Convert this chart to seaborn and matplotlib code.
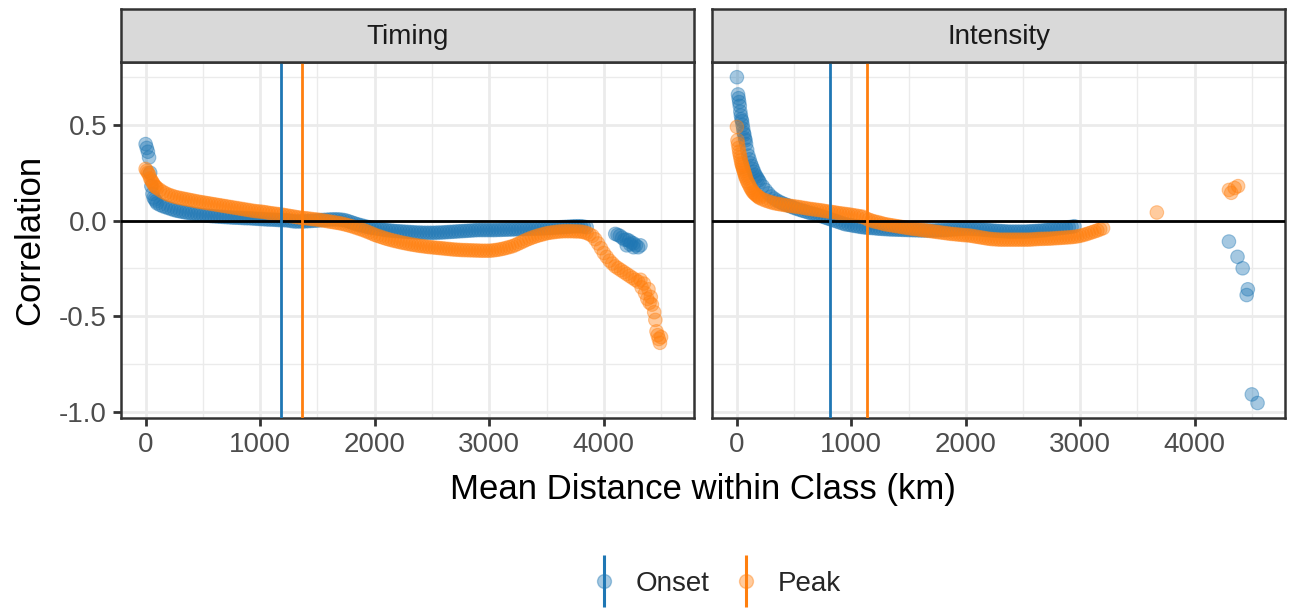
import numpy as np
import pandas as pd
import matplotlib
matplotlib.use('Agg')
import matplotlib.pyplot as plt
import seaborn as sns
from matplotlib.lines import Line2D
from matplotlib.legend_handler import HandlerTuple
from matplotlib.ticker import MultipleLocator

# cores
azul = '#1f77b4'
laranja = '#ff7f0e'

# Timing - Onset
timing_onset_x = [0, 10, 20, 30, 40, 50, 60, 70, 80, 90,
                  100, 125, 150, 175, 200, 225, 250, 275, 300, 325,
                  350, 375, 400, 425, 450, 475, 500, 525, 550, 575,
                  600, 625, 650, 675, 700, 725, 750, 775, 800, 825,
                  850, 875, 900, 925, 950, 975, 1000, 1025, 1050, 1075,
                  1100, 1125, 1150, 1175, 1200, 1225, 1250, 1275, 1300, 1325,
                  1350, 1375, 1400, 1425, 1450, 1475, 1500, 1525, 1550, 1575,
                  1600, 1625, 1650, 1675, 1700, 1725, 1750, 1775, 1800, 1825,
                  1850, 1875, 1900, 1925, 1950, 1975, 2000, 2025, 2050, 2075,
                  2100, 2125, 2150, 2175, 2200, 2225, 2250, 2275, 2300, 2325,
                  2350, 2375, 2400, 2425, 2450, 2475, 2500, 2525, 2550, 2575,
                  2600, 2625, 2650, 2675, 2700, 2725, 2750, 2775, 2800, 2825,
                  2850, 2875, 2900, 2925, 2950, 2975, 3000, 3025, 3050, 3075,
                  3100, 3125, 3150, 3175, 3200, 3225, 3250, 3275, 3300, 3325,
                  3350, 3375, 3400, 3425, 3450, 3475, 3500, 3525, 3550, 3575,
                  3600, 3625, 3650, 3675, 3700, 3725, 3750, 3775, 3800, 3825,
                  3850, 4100, 4120, 4140, 4160, 4180, 4200, 4220, 4240, 4260,
                  4280, 4300, 4320, 4200, 4260, 4230]
timing_onset_y = [0.40, 0.38, 0.36, 0.33, 0.25, 0.18, 0.14, 0.12, 0.11, 0.10,
                  0.090, 0.082, 0.075, 0.070, 0.065, 0.060, 0.055, 0.051, 0.048, 0.045,
                  0.042, 0.040, 0.037, 0.035, 0.032, 0.030, 0.028, 0.026, 0.025, 0.023,
                  0.022, 0.021, 0.020, 0.019, 0.018, 0.017, 0.016, 0.015, 0.015, 0.014,
                  0.013, 0.012, 0.012, 0.011, 0.010, 0.009, 0.008, 0.007, 0.006, 0.005,
                  0.005, 0.004, 0.003, 0.002, 0.002, 0.001, 0.000, -0.003, -0.005, -0.005,
                  -0.005, -0.005, -0.004, -0.003, -0.002, -0.001, 0.000, 0.002, 0.003, 0.004,
                  0.005, 0.006, 0.006, 0.006, 0.005, 0.003, 0.000, -0.005, -0.010, -0.015,
                  -0.020, -0.024, -0.028, -0.032, -0.035, -0.038, -0.040, -0.043, -0.045, -0.048,
                  -0.050, -0.052, -0.053, -0.055, -0.056, -0.057, -0.058, -0.059, -0.060, -0.061,
                  -0.062, -0.063, -0.063, -0.064, -0.064, -0.064, -0.064, -0.064, -0.063, -0.063,
                  -0.062, -0.061, -0.060, -0.059, -0.058, -0.057, -0.056, -0.055, -0.054, -0.053,
                  -0.052, -0.051, -0.050, -0.050, -0.050, -0.050, -0.050, -0.050, -0.050, -0.049,
                  -0.049, -0.048, -0.048, -0.047, -0.047, -0.046, -0.046, -0.045, -0.045, -0.044,
                  -0.044, -0.043, -0.043, -0.042, -0.042, -0.041, -0.040, -0.039, -0.038, -0.037,
                  -0.036, -0.035, -0.034, -0.033, -0.032, -0.031, -0.030, -0.030, -0.030, -0.032,
                  -0.035, -0.070, -0.075, -0.080, -0.090, -0.100, -0.100, -0.105, -0.115, -0.120,
                  -0.130, -0.140, -0.130, -0.130, -0.140, -0.125]

# Timing - Peak
timing_peak_x = [0, 10, 20, 30, 40, 50, 60, 70, 80, 90,
                 100, 125, 150, 175, 200, 225, 250, 275, 300, 325,
                 350, 375, 400, 425, 450, 475, 500, 525, 550, 575,
                 600, 625, 650, 675, 700, 725, 750, 775, 800, 825,
                 850, 875, 900, 925, 950, 975, 1000, 1025, 1050, 1075,
                 1100, 1125, 1150, 1175, 1200, 1225, 1250, 1275, 1300, 1325,
                 1350, 1375, 1400, 1425, 1450, 1475, 1500, 1525, 1550, 1575,
                 1600, 1625, 1650, 1675, 1700, 1725, 1750, 1775, 1800, 1825,
                 1850, 1875, 1900, 1925, 1950, 1975, 2000, 2025, 2050, 2075,
                 2100, 2125, 2150, 2175, 2200, 2225, 2250, 2275, 2300, 2325,
                 2350, 2375, 2400, 2425, 2450, 2475, 2500, 2525, 2550, 2575,
                 2600, 2625, 2650, 2675, 2700, 2725, 2750, 2775, 2800, 2825,
                 2850, 2875, 2900, 2925, 2950, 2975, 3000, 3025, 3050, 3075,
                 3100, 3125, 3150, 3175, 3200, 3225, 3250, 3275, 3300, 3325,
                 3350, 3375, 3400, 3425, 3450, 3475, 3500, 3525, 3550, 3575,
                 3600, 3625, 3650, 3675, 3700, 3725, 3750, 3775, 3800, 3825,
                 3850, 3875, 3900, 3925, 3950, 3975, 4000, 4025, 4050, 4075,
                 4100, 4125, 4150, 4175, 4200, 4225, 4250, 4275, 4300,
                 4320, 4330, 4350, 4360, 4380, 4390, 4400, 4410, 4420, 4440,
                 4450, 4460, 4470, 4480, 4490, 4500]
timing_peak_y = [0.27, 0.26, 0.25, 0.24, 0.22, 0.21, 0.20, 0.19, 0.18, 0.175,
                 0.170, 0.160, 0.150, 0.142, 0.135, 0.130, 0.125, 0.121, 0.118, 0.115,
                 0.112, 0.109, 0.106, 0.103, 0.100, 0.097, 0.095, 0.092, 0.090, 0.087,
                 0.085, 0.082, 0.080, 0.077, 0.075, 0.072, 0.070, 0.067, 0.065, 0.062,
                 0.060, 0.057, 0.055, 0.052, 0.050, 0.048, 0.047, 0.045, 0.043, 0.040,
                 0.038, 0.036, 0.034, 0.032, 0.030, 0.027, 0.025, 0.022, 0.020, 0.017,
                 0.015, 0.013, 0.012, 0.010, 0.008, 0.006, 0.005, 0.002, 0.000, -0.002,
                 -0.005, -0.007, -0.010, -0.012, -0.015, -0.018, -0.022, -0.026, -0.030, -0.035,
                 -0.040, -0.045, -0.050, -0.056, -0.062, -0.068, -0.075, -0.080, -0.085, -0.090,
                 -0.095, -0.099, -0.103, -0.107, -0.110, -0.114, -0.117, -0.120, -0.123, -0.126,
                 -0.128, -0.131, -0.133, -0.135, -0.137, -0.139, -0.140, -0.142, -0.143, -0.145,
                 -0.146, -0.148, -0.149, -0.151, -0.152, -0.153, -0.154, -0.155, -0.155, -0.156,
                 -0.156, -0.157, -0.157, -0.158, -0.158, -0.158, -0.158, -0.157, -0.155, -0.153,
                 -0.150, -0.147, -0.143, -0.139, -0.135, -0.129, -0.122, -0.115, -0.108, -0.101,
                 -0.095, -0.089, -0.084, -0.079, -0.075, -0.071, -0.067, -0.064, -0.062, -0.060,
                 -0.058, -0.057, -0.056, -0.056, -0.056, -0.056, -0.057, -0.057, -0.058, -0.061,
                 -0.065, -0.072, -0.080, -0.098, -0.120, -0.145, -0.170, -0.190, -0.210, -0.225,
                 -0.240, -0.250, -0.260, -0.270, -0.280, -0.290, -0.300, -0.310, -0.320,
                 -0.310, -0.350, -0.330, -0.380, -0.410, -0.360, -0.430, -0.400, -0.440, -0.480,
                 -0.520, -0.580, -0.600, -0.620, -0.640, -0.610]

# Intensity - Onset
intensity_onset_x = [0, 10, 15, 20, 25, 30, 35, 40, 45, 50,
                     55, 60, 65, 70, 75, 80, 90, 100, 110, 120,
                     130, 140, 150, 160, 170, 180, 190,
                     200, 225, 250, 275, 300, 325, 350, 375, 400, 425,
                     450, 475, 500, 525, 550, 575, 600, 625, 650, 675,
                     700, 725, 750, 775, 800, 825, 850, 875, 900, 925,
                     950, 975, 1000, 1025, 1050, 1075, 1100, 1125, 1150, 1175,
                     1200, 1225, 1250, 1275, 1300, 1325, 1350, 1375, 1400, 1425,
                     1450, 1475, 1500, 1525, 1550, 1575, 1600, 1625, 1650, 1675,
                     1700, 1725, 1750, 1775, 1800, 1825, 1850, 1875, 1900, 1925,
                     1950, 1975, 2000, 2025, 2050, 2075, 2100, 2125, 2150, 2175,
                     2200, 2225, 2250, 2275, 2300, 2325, 2350, 2375, 2400, 2425,
                     2450, 2475, 2500, 2525, 2550, 2575, 2600, 2625, 2650, 2675,
                     2700, 2725, 2750, 2775, 2800, 2825, 2850, 2875, 2900, 2925,
                     2950,
                     4300, 4375, 4420, 4455, 4465, 4500, 4550]
intensity_onset_y = [0.75, 0.66, 0.64, 0.62, 0.60, 0.57, 0.55, 0.53, 0.52, 0.50,
                     0.48, 0.46, 0.45, 0.43, 0.42, 0.40, 0.37, 0.34, 0.32, 0.30,
                     0.285, 0.27, 0.255, 0.24, 0.23, 0.22, 0.21,
                     0.200, 0.180, 0.160, 0.142, 0.126, 0.115, 0.105, 0.097, 0.090, 0.084,
                     0.078, 0.072, 0.066, 0.061, 0.056, 0.051, 0.047, 0.042, 0.038, 0.034,
                     0.030, 0.025, 0.020, 0.015, 0.010, 0.005, 0.000, -0.005, -0.010, -0.015,
                     -0.020, -0.022, -0.025, -0.028, -0.030, -0.033, -0.035, -0.037, -0.038, -0.039,
                     -0.040, -0.042, -0.043, -0.044, -0.045, -0.046, -0.047, -0.047, -0.048, -0.048,
                     -0.049, -0.049, -0.050, -0.050, -0.051, -0.051, -0.052, -0.052, -0.052, -0.052,
                     -0.052, -0.052, -0.051, -0.050, -0.050, -0.049, -0.048, -0.047, -0.046, -0.045,
                     -0.044, -0.043, -0.042, -0.042, -0.043, -0.044, -0.045, -0.046, -0.048, -0.049,
                     -0.050, -0.052, -0.053, -0.054, -0.055, -0.056, -0.057, -0.058, -0.058, -0.058,
                     -0.058, -0.058, -0.058, -0.058, -0.057, -0.056, -0.055, -0.054, -0.053, -0.052,
                     -0.050, -0.048, -0.046, -0.044, -0.042, -0.040, -0.038, -0.037, -0.035, -0.033,
                     -0.030,
                     -0.11, -0.19, -0.25, -0.39, -0.36, -0.91, -0.955]

# Intensity - Peak
intensity_peak_x = [0, 5, 10, 15, 20, 25, 30, 35, 40, 45,
                    50, 55, 60, 65, 70, 75, 80, 90, 100, 110,
                    120, 130, 140, 150, 160, 170, 180, 190,
                    200, 225, 250, 275, 300, 325, 350, 375, 400, 425,
                    450, 475, 500, 525, 550, 575, 600, 625, 650, 675,
                    700, 725, 750, 775, 800, 825, 850, 875, 900, 925,
                    950, 975, 1000, 1025, 1050, 1075, 1100, 1125, 1150, 1175,
                    1200, 1225, 1250, 1275, 1300, 1325, 1350, 1375, 1400, 1425,
                    1450, 1475, 1500, 1525, 1550, 1575, 1600, 1625, 1650, 1675,
                    1700, 1725, 1750, 1775, 1800, 1825, 1850, 1875, 1900, 1925,
                    1950, 1975, 2000, 2025, 2050, 2075, 2100, 2125, 2150, 2175,
                    2200, 2225, 2250, 2275, 2300, 2325, 2350, 2375, 2400, 2425,
                    2450, 2475, 2500, 2525, 2550, 2575, 2600, 2625, 2650, 2675,
                    2700, 2725, 2750, 2775, 2800, 2825, 2850, 2875, 2900, 2925,
                    2950, 2975, 3000, 3025, 3050, 3075, 3100, 3125, 3150, 3175,
                    3200,
                    3670, 4300, 4320, 4350, 4380]
intensity_peak_y = [0.49, 0.42, 0.40, 0.38, 0.36, 0.345, 0.33, 0.315, 0.30, 0.29,
                    0.28, 0.27, 0.26, 0.25, 0.24, 0.23, 0.22, 0.205, 0.195, 0.182,
                    0.17, 0.16, 0.15, 0.144, 0.138, 0.133, 0.128, 0.123,
                    0.118, 0.111, 0.105, 0.100, 0.095, 0.091, 0.088, 0.085, 0.083, 0.080,
                    0.078, 0.076, 0.074, 0.072, 0.070, 0.067, 0.065, 0.062, 0.060, 0.058,
                    0.056, 0.054, 0.052, 0.049, 0.047, 0.045, 0.043, 0.040, 0.038, 0.036,
                    0.034, 0.032, 0.030, 0.027, 0.025, 0.022, 0.020, 0.012, 0.005, 0.000,
                    -0.005, -0.008, -0.012, -0.016, -0.020, -0.022, -0.025, -0.027, -0.030, -0.032,
                    -0.035, -0.037, -0.040, -0.042, -0.044, -0.046, -0.048, -0.050, -0.052, -0.054,
                    -0.056, -0.058, -0.060, -0.062, -0.064, -0.066, -0.068, -0.070, -0.071, -0.073,
                    -0.074, -0.076, -0.077, -0.078, -0.080, -0.083, -0.085, -0.088, -0.090, -0.093,
                    -0.095, -0.097, -0.098, -0.099, -0.100, -0.100, -0.100, -0.100, -0.100, -0.100,
                    -0.100, -0.100, -0.100, -0.100, -0.100, -0.099, -0.098, -0.097, -0.096, -0.096,
                    -0.095, -0.095, -0.094, -0.093, -0.092, -0.091, -0.090, -0.089, -0.088, -0.087,
                    -0.085, -0.083, -0.080, -0.076, -0.072, -0.067, -0.062, -0.057, -0.052, -0.046,
                    -0.040,
                    0.042, 0.16, 0.145, 0.17, 0.18]

# linhas verticais (limiares)
facetas = ['Timing', 'Intensity']
limiar_onset = [1180, 810]
limiar_peak = [1362, 1140]
tipos = ['Onset', 'Peak']

# montar tabela longa
partes = []
for faceta, tipo, xs, ys in [('Timing', 'Onset', timing_onset_x, timing_onset_y),
                             ('Timing', 'Peak', timing_peak_x, timing_peak_y),
                             ('Intensity', 'Onset', intensity_onset_x, intensity_onset_y),
                             ('Intensity', 'Peak', intensity_peak_x, intensity_peak_y)]:
    assert len(xs) == len(ys), (faceta, tipo, len(xs), len(ys))
    partes.append(pd.DataFrame({'faceta': faceta, 'tipo': tipo, 'dist': xs, 'corr': ys}))
dados = pd.concat(partes, ignore_index=True)

sns.set_style("white")
plt.rcParams['font.family'] = ['Liberation Sans', 'DejaVu Sans']

fig = plt.figure(figsize=(12.91, 6.11), dpi=100)
fig.patch.set_facecolor('white')

W, H = 1291, 611
painel_px = [(121, 694.3), (712.3, 1285)]
topo, base, strip_topo = 62.3, 418.3, 9
cinza_txt = '#4d4d4d'
borda = '#333333'

for i, faceta in enumerate(facetas):
    x0, x1 = painel_px[i]
    ax = fig.add_axes([x0 / W, 1 - base / H, (x1 - x0) / W, (base - topo) / H])
    sub = dados[dados['faceta'] == faceta]
    ax.set_axisbelow(True)
    ax.xaxis.set_major_locator(MultipleLocator(1000))
    ax.xaxis.set_minor_locator(MultipleLocator(500))
    ax.yaxis.set_major_locator(MultipleLocator(0.5))
    ax.yaxis.set_minor_locator(MultipleLocator(0.25))
    ax.grid(which='major', color='#ebebeb', linewidth=2)
    ax.grid(which='minor', color='#ebebeb', linewidth=1)
    sns.scatterplot(data=sub, x='dist', y='corr', hue='tipo', hue_order=tipos,
                    palette=[azul, laranja], alpha=0.4, s=95, edgecolor='face',
                    linewidth=0.8, legend=False, ax=ax, zorder=3)
    ax.axhline(0, color='black', linewidth=2, zorder=4)
    ax.axvline(limiar_onset[i], color=azul, linewidth=2, zorder=5)
    ax.axvline(limiar_peak[i], color=laranja, linewidth=2, zorder=5)
    ax.set_xlim(-215, 4790)
    ax.set_ylim(-1.035, 0.828)
    ax.set_xlabel('')
    ax.set_ylabel('')
    for s in ax.spines.values():
        s.set_visible(True)
        s.set_color(borda)
        s.set_linewidth(1.8)
    ax.tick_params(which='major', length=6, width=2, color=borda,
                   labelsize=20, labelcolor=cinza_txt, pad=4,
                   bottom=True, left=(i == 0))
    ax.tick_params(which='minor', length=0)
    ax.set_xticks([0, 1000, 2000, 3000, 4000])
    ax.set_xticklabels(['0', '1000', '2000', '3000', '4000'])
    if i == 0:
        ax.set_yticks([-1.0, -0.5, 0.0, 0.5])
        ax.set_yticklabels(['-1.0', '-0.5', '0.0', '0.5'])
    else:
        ax.set_yticklabels([])

    # faixa do título da faceta
    ax_s = fig.add_axes([x0 / W, 1 - topo / H, (x1 - x0) / W, (topo - strip_topo) / H])
    ax_s.set_facecolor('#d9d9d9')
    ax_s.set_xticks([])
    ax_s.set_yticks([])
    for s in ax_s.spines.values():
        s.set_visible(True)
        s.set_color(borda)
        s.set_linewidth(1.8)
    ax_s.text(0.5, 0.47, faceta, ha='center', va='center', fontsize=20,
              color='#1a1a1a', transform=ax_s.transAxes)

fig.text(703 / W, 1 - 490 / H, 'Mean Distance within Class (km)', ha='center',
         va='center', fontsize=25, color='black')
fig.text(30 / W, 1 - 240 / H, 'Correlation', ha='center', va='center',
         rotation=90, fontsize=25, color='black')

# legenda
handles = []
for cor in [azul, laranja]:
    linha = Line2D([], [], marker='|', markersize=38, markeredgewidth=2.2,
                   linestyle='none', color=cor)
    ponto = Line2D([], [], marker='o', markersize=10, linestyle='none',
                   color=cor, alpha=0.4)
    handles.append((linha, ponto))
fig.legend(handles, tipos, handler_map={tuple: HandlerTuple(ndivide=1)},
           loc='center', bbox_to_anchor=(717 / W, 1 - 584 / H), ncol=2,
           frameon=False, fontsize=20, handlelength=0.8, handletextpad=0.75,
           columnspacing=0.9)

plt.savefig('out.png', dpi=100, facecolor='white')
